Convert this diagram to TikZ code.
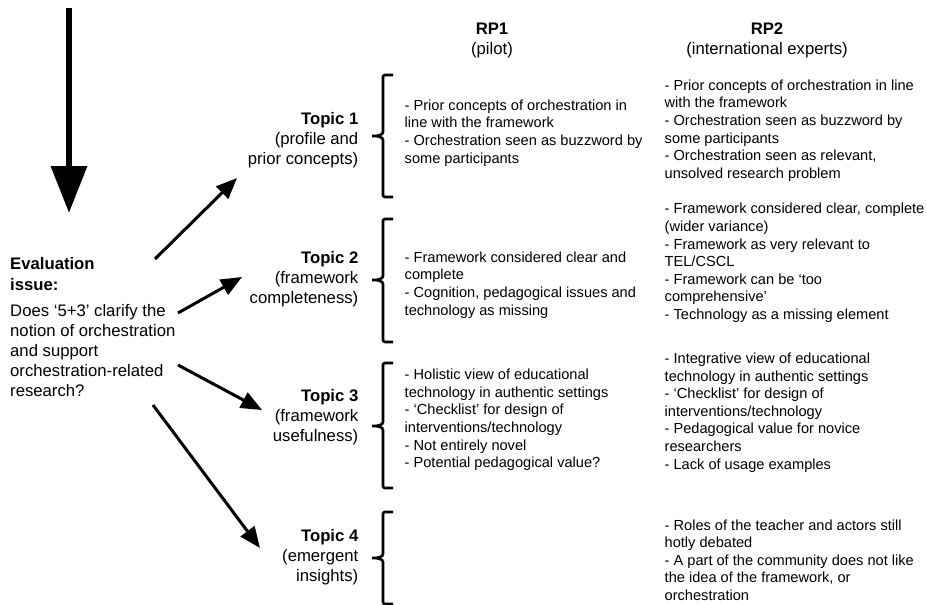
\documentclass[tikz,border=0pt]{standalone}
\usepackage{fontspec}
\setmainfont{Liberation Sans}
\usetikzlibrary{arrows.meta,calc,positioning}

\begin{document}
\begin{tikzpicture}[x=1pt,y=-1pt,
every node/.style={inner sep=0pt},
big/.style={font=\fontsize{16.7}{20}\selectfont},
small/.style={font=\fontsize{14.6}{17.6}\selectfont,align=left,anchor=west},
topic/.style={big,align=right,anchor=east},
brk/.style={line width=2.6pt,rounded corners=2pt},
arr/.style={line width=3pt,-{Triangle[length=21pt,width=17pt]}}]
\useasboundingbox (0,0) rectangle (927,605);

% left side
\coordinate (top) at (69,8);
\coordinate (tip) at (69,213);
\draw[line width=6.7pt,-{Triangle[length=47pt,width=35pt]}] (top)--(tip);
\node[big,align=left,anchor=north west] (EI) at (10,257.5)
  {\textbf{Evaluation}\\[1pt] \textbf{issue:}\\[6pt] Does ‘5+3’ clarify the\\notion of orchestration\\and support\\orchestration-related\\research?};

% topics
\node[topic] (T1) at (358.5,140) {\textbf{Topic 1}\\(profile and\\prior concepts)};
\node[topic] (T2) at (358.5,279) {\textbf{Topic 2}\\(framework\\completeness)};
\node[topic] (T3) at (358.5,417) {\textbf{Topic 3}\\(framework\\usefulness)};
\node[topic] (T4) at (358.5,557) {\textbf{Topic 4}\\(emergent\\insights)};

\coordinate (S1) at (155,259);
\coordinate (S2) at (178,313);
\coordinate (S3) at (178,365);
\coordinate (S4) at (153,405);
\coordinate (E1) at (237,178);
\coordinate (E2) at (242,277);
\coordinate (E3) at (262,410);
\coordinate (E4) at (260,548);
\draw[arr] (S1)--(E1);
\draw[arr] (S2)--(E2);
\draw[arr] (S3)--(E3);
\draw[arr] (S4)--(E4);

% brackets
\draw[brk] (393,75)--(383,75)--(383,130) .. controls (383,135) and (378,136) .. (371,136) .. controls (378,136) and (383,137) .. (383,142)--(383,197)--(393,197);
\draw[brk] (393,219)--(383,219)--(383,274) .. controls (383,279) and (378,280) .. (371,280) .. controls (378,280) and (383,281) .. (383,286)--(383,342)--(393,342);
\draw[brk] (393,363)--(383,363)--(383,420) .. controls (383,425) and (378,426) .. (371,426) .. controls (378,426) and (383,427) .. (383,432)--(383,488)--(393,488);
\draw[brk] (393,512)--(383,512)--(383,552) .. controls (383,557) and (378,558) .. (371,558) .. controls (378,558) and (383,559) .. (383,564)--(383,604)--(393,604);

% headers
\node[big,align=center] (H1) at (492,40) {\textbf{RP1}\\(pilot)};
\node[big,align=center] (H2) at (767,40) {\textbf{RP2}\\(international experts)};

% RP1
\node[small] (P11) at (404.5,133) {- Prior concepts of orchestration in\\line with the framework\\- Orchestration seen as buzzword by\\some participants};
\node[small] (P12) at (404.5,285) {- Framework considered clear and\\complete\\- Cognition, pedagogical issues and\\technology as missing};
\node[small] (P13) at (404.5,420) {- Holistic view of educational\\technology in authentic settings\\- ‘Checklist’ for design of\\interventions/technology\\- Not entirely novel\\- Potential pedagogical value?};

% RP2
\node[small] (P21) at (664.5,130.5) {- Prior concepts of orchestration in line\\with the framework\\- Orchestration seen as buzzword by\\some participants\\- Orchestration seen as relevant,\\unsolved research problem};
\node[small] (P22) at (664.5,263) {- Framework considered clear, complete\\(wider variance)\\- Framework as very relevant to\\TEL/CSCL\\- Framework can be ‘too\\comprehensive’\\- Technology as a missing element};
\node[small] (P23) at (664.5,412.5) {- Integrative view of educational\\technology in authentic settings\\- ‘Checklist’ for design of\\interventions/technology\\- Pedagogical value for novice\\researchers\\- Lack of usage examples};
\node[small] (P24) at (664.5,560) {- Roles of the teacher and actors still\\hotly debated\\- A part of the community does not like\\the idea of the framework, or\\orchestration};
\end{tikzpicture}
\end{document}
